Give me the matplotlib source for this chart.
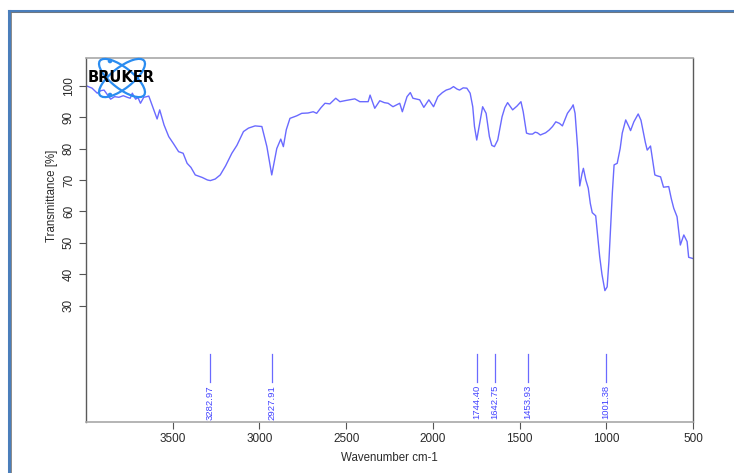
import numpy as np
import matplotlib
matplotlib.use('Agg')
import matplotlib.pyplot as plt
from matplotlib.patches import Ellipse, Circle
from matplotlib.lines import Line2D

plt.rcParams['font.family'] = ['Liberation Sans', 'DejaVu Sans']

# spectrum (wavenumber cm-1, transmittance %)
wavenumber = [4000, 3965, 3935, 3915, 3896, 3875, 3858, 3835, 3810, 3785, 3762, 3745, 3733, 3714,
              3700, 3686, 3667, 3650, 3638, 3620, 3590, 3575, 3550, 3523, 3495, 3466, 3440, 3417,
              3395, 3370, 3330, 3300, 3283, 3255, 3226, 3195, 3159, 3130, 3092, 3063, 3025, 2986,
              2957, 2929, 2900, 2877, 2862, 2845, 2824, 2785, 2756, 2720, 2690, 2670, 2645, 2622,
              2594, 2560, 2536, 2500, 2450, 2421, 2373, 2362, 2335, 2306, 2280, 2258, 2230, 2191,
              2176, 2149, 2130, 2115, 2076, 2052, 2023, 1996, 1971, 1945, 1923, 1900, 1881, 1860,
              1846, 1825, 1804, 1785, 1770, 1760, 1747, 1730, 1713, 1693, 1674, 1660, 1645, 1626,
              1601, 1585, 1569, 1555, 1540, 1515, 1492, 1479, 1460, 1443, 1425, 1410, 1397, 1380,
              1368, 1350, 1329, 1310, 1291, 1270, 1253, 1240, 1224, 1200, 1191, 1180, 1165, 1153,
              1140, 1132, 1118, 1104, 1092, 1081, 1061, 1050, 1038, 1025, 1008, 995, 985, 975,
              965, 955, 937, 920, 908, 888, 870, 860, 841, 816, 800, 789, 775, 764, 745, 732,
              720, 706, 687, 670, 640, 625, 611, 592, 573, 553, 534, 525, 500]
transmittance = [100.0, 99.2, 97.6, 98.4, 98.6, 97.0, 95.7, 96.5, 96.3, 96.8, 96.3, 96.0, 97.6, 95.7,
                 96.2, 94.4, 96.3, 96.5, 96.7, 94.0, 89.4, 92.3, 87.5, 83.8, 81.5, 79.0, 78.5, 75.3,
                 74.0, 71.6, 70.8, 70.0, 69.8, 70.3, 71.6, 74.5, 78.5, 81.0, 85.4, 86.5, 87.2, 87.0,
                 80.6, 71.6, 80.0, 83.0, 80.6, 86.0, 89.6, 90.4, 91.2, 91.3, 91.7, 91.2, 93.0, 94.4,
                 94.2, 96.0, 94.9, 95.3, 95.8, 94.9, 94.9, 97.0, 92.8, 95.2, 94.6, 94.4, 93.3, 94.4,
                 91.7, 96.5, 97.8, 96.0, 95.5, 93.1, 95.5, 93.3, 96.5, 97.8, 98.6, 99.0, 99.7, 98.9,
                 98.6, 99.3, 99.2, 97.6, 93.3, 87.0, 82.7, 88.0, 93.3, 91.2, 83.8, 81.0, 80.6, 82.7,
                 90.1, 93.0, 94.6, 93.5, 92.3, 93.5, 94.9, 91.7, 84.9, 84.6, 84.6, 85.2, 85.0, 84.3,
                 84.6, 85.0, 85.9, 87.0, 88.5, 88.0, 87.2, 89.0, 91.2, 93.0, 93.9, 91.2, 80.0, 68.1,
                 72.0, 73.7, 70.0, 67.4, 62.5, 59.6, 58.6, 52.5, 45.6, 40.0, 34.8, 36.0, 44.0, 55.1,
                 66.0, 74.8, 75.3, 80.0, 84.9, 89.1, 87.0, 85.7, 88.5, 91.0, 89.0, 85.9, 82.0, 79.5,
                 80.8, 76.0, 71.6, 71.3, 71.0, 67.7, 67.9, 64.0, 61.0, 58.3, 49.3, 52.5, 50.4, 45.4, 45.0]

peaks = [3282.97, 2927.91, 1744.40, 1642.75, 1453.93, 1001.38]
peak_labels = ['3282.97', '2927.91', '1744.40', '1642.75', '1453.93', '1001.38']

x_ticks = [3500, 3000, 2500, 2000, 1500, 1000, 500]
y_ticks = [30, 40, 50, 60, 70, 80, 90, 100]

fig = plt.figure(figsize=(7.34, 4.73), dpi=100)
ax = fig.add_axes([86 / 734, 1 - 422 / 473, 607 / 734, 364 / 473])

ax.plot(wavenumber, transmittance, color='#6a6aff', lw=1.0)

# peak markers
for p, lab in zip(peaks, peak_labels):
    ax.plot([p, p], [5.7, 14.6], color='#6a6aff', lw=0.9)
    ax.text(p, 4.8, lab, rotation=90, ha='center', va='top', fontsize=6.8, color='#4444ff')

ax.set_xlim(4000, 500)
ax.set_ylim(-7, 108.8)
ax.set_xticks(x_ticks)
ax.set_yticks(y_ticks)
ax.set_yticklabels([str(v) for v in y_ticks], rotation=90, va='center')
ax.tick_params(direction='out', length=5, width=0.8, colors='#555555', labelcolor='#2a2a2a',
               labelsize=8.5, pad=3)
ax.tick_params(axis='y', pad=3)

for side in ['top', 'bottom']:
    ax.spines[side].set_color('#a8a8a8')
    ax.spines[side].set_linewidth(1.2)
for side in ['left', 'right']:
    ax.spines[side].set_color('#5a5a5a')
    ax.spines[side].set_linewidth(1.0)

fig.text(389.5 / 734, 1 - 458 / 473, 'Wavenumber cm-1', ha='center', va='center',
         fontsize=8.3, color='#2a2a2a')
fig.text(52 / 734, 1 - 196 / 473, 'Transmittance [%]', ha='center', va='center',
         rotation=90, fontsize=8.3, color='#2a2a2a')

# outer window frame
fig.add_artist(Line2D([9 / 734, 1], [1 - 11 / 473, 1 - 11 / 473], transform=fig.transFigure,
                      color='#4a7ebb', lw=2.2))
fig.add_artist(Line2D([9 / 734, 9 / 734], [0, 1 - 11 / 473], transform=fig.transFigure,
                      color='#4a7ebb', lw=2.2))
fig.add_artist(Line2D([10.5 / 734, 1], [1 - 12.5 / 473, 1 - 12.5 / 473], transform=fig.transFigure,
                      color='#777777', lw=0.6))
fig.add_artist(Line2D([10.5 / 734, 10.5 / 734], [0, 1 - 12.5 / 473], transform=fig.transFigure,
                      color='#777777', lw=0.6))

# BRUKER logo
lax = fig.add_axes([86 / 734, 1 - 100 / 473, 74 / 734, 44 / 473])
lax.set_xlim(86, 160)
lax.set_ylim(100, 56)
lax.axis('off')
for ang in [38, -38]:
    lax.add_patch(Ellipse((122, 78), 56, 21, angle=ang, fill=False, ec='#2a8cf0', lw=1.6))
lax.add_patch(Circle((110, 61), 1.6, color='#2a8cf0'))
lax.add_patch(Circle((110, 95), 1.6, color='#2a8cf0'))
lax.text(121.5, 78, 'BRUKER', ha='center', va='center', fontsize=10.5, fontweight='bold',
         family='DejaVu Sans', color='black')

fig.savefig('out.png', dpi=100)
